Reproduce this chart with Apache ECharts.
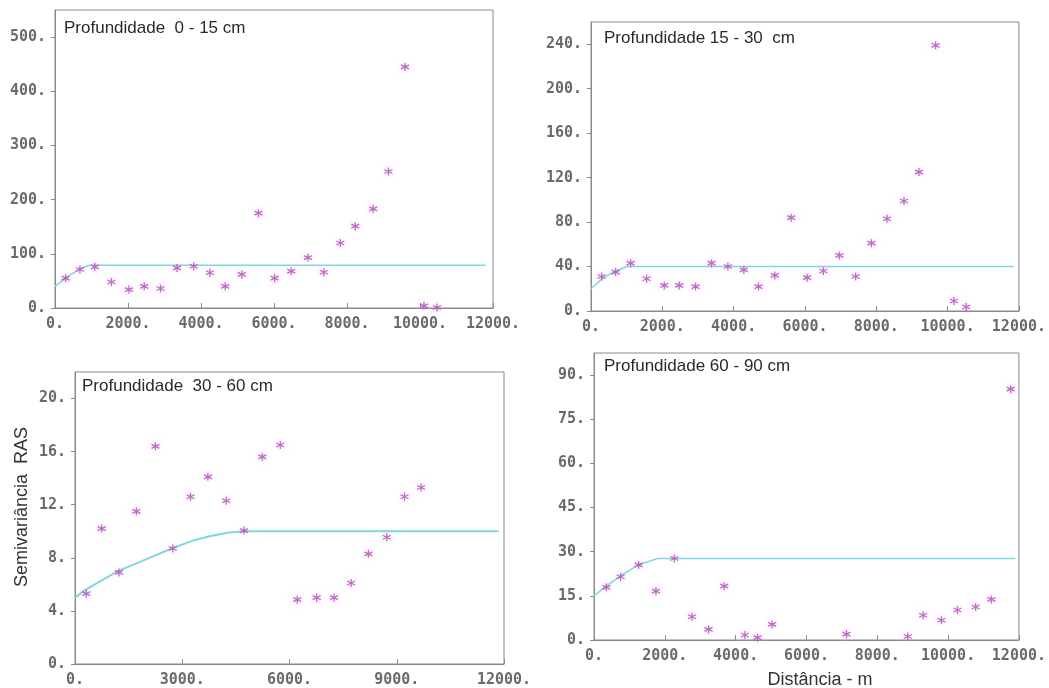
<!DOCTYPE html>
<html>
<head>
<meta charset="utf-8">
<script src="https://cdn.jsdelivr.net/npm/echarts@6/dist/echarts.min.js"></script>
<style>
  * { margin: 0; padding: 0; }
  body { background: #fff; }
  #chart { width: 1049px; height: 688px; }
</style>
</head>
<body>
<div id="chart"></div>
<script>
// semivariograma experimental (pontos) e modelo ajustado (linha), 4 profundidades
const depthTitles = [
  "Profundidade  0 - 15 cm",
  "Profundidade 15 - 30  cm",
  "Profundidade  30 - 60 cm",
  "Profundidade 60 - 90 cm",
];

// 0 - 15 cm
const pts015 = [
  [291, 55], [682, 71], [1091, 76], [1545, 48], [2027, 34], [2445, 40],
  [2891, 36], [3345, 74], [3800, 77], [4245, 65], [4664, 40], [5118, 62],
  [5573, 175], [6018, 55], [6473, 68], [6927, 93], [7364, 66], [7818, 120],
  [8227, 151], [8718, 183], [9136, 252], [9591, 445], [10109, 4], [10464, 1],
];
const model015 = [[0, 40], [350, 58], [700, 73], [950, 79], [11800, 79]];

// 15 - 30 cm
const pts1530 = [
  [299, 31], [691, 35], [1111, 43], [1559, 29], [2054, 23], [2474, 23],
  [2932, 22], [3380, 43], [3838, 40], [4286, 37], [4697, 22], [5154, 32],
  [5612, 84], [6060, 30], [6517, 36], [6965, 50], [7423, 31], [7862, 61],
  [8301, 83], [8777, 99], [9197, 125], [9664, 239], [10178, 9], [10523, 3.6],
];
const model1530 = [[0, 20], [350, 30], [700, 36], [1000, 40], [11850, 40]];

// 30 - 60 cm
const pts3060 = [
  [317, 5.3], [747, 10.2], [1232, 6.9], [1718, 11.5], [2250, 16.4], [2736, 8.7],
  [3231, 12.6], [3717, 14.1], [4230, 12.3], [4725, 10.05], [5238, 15.6], [5742, 16.5],
  [6218, 4.85], [6760, 5.0], [7246, 5.0], [7722, 6.1], [8207, 8.3], [8721, 9.55],
  [9216, 12.6], [9683, 13.3],
];
const model3060 = [
  [0, 5], [300, 5.6], [1200, 7.0], [2000, 7.9], [2700, 8.7], [3300, 9.3],
  [3800, 9.65], [4300, 9.9], [4800, 10], [11850, 10],
];

// 60 - 90 cm
const pts6090 = [
  [348, 17.9], [752, 21.5], [1260, 25.5], [1750, 16.6], [2267, 27.7], [2765, 7.9],
  [3236, 3.6], [3678, 18.3], [4261, 1.7], [4619, 0.8], [5032, 5.3], [7131, 2.0],
  [8861, 1.2], [9294, 8.4], [9812, 6.7], [10263, 10.2], [10780, 11.2], [11222, 13.8],
  [11768, 85.2],
];
const model6090 = [[0, 15], [350, 18.3], [750, 21.8], [1250, 25.5], [1800, 27.7], [11900, 27.7]];

// marcas dos eixos
const xTicksA = [0, 2000, 4000, 6000, 8000, 10000, 12000];
const xTicksB = [0, 3000, 6000, 9000, 12000];
const yTicks015 = [0, 100, 200, 300, 400, 500];
const yTicks1530 = [0, 40, 80, 120, 160, 200, 240];
const yTicks3060 = [0, 4, 8, 12, 16, 20];
const yTicks6090 = [0, 15, 30, 45, 60, 75, 90];
const yMax = [550, 260, 22, 97.5];

const panels = [
  { grid: { left: 55, top: 10, width: 438, height: 298 }, xt: xTicksA, yt: yTicks015, pts: pts015, model: model015, title: [64, 30] },
  { grid: { left: 591, top: 22, width: 429, height: 289 }, xt: xTicksA, yt: yTicks1530, pts: pts1530, model: model1530, title: [604, 40] },
  { grid: { left: 75, top: 372, width: 429, height: 292 }, xt: xTicksB, yt: yTicks3060, pts: pts3060, model: model3060, title: [82, 388] },
  { grid: { left: 594, top: 353, width: 426, height: 287 }, xt: xTicksA, yt: yTicks6090, pts: pts6090, model: model6090, title: [604, 368] },
];

const axisGray = "#8a8a8a";
const labelStyle = {
  fontFamily: "DejaVu Sans Mono",
  fontWeight: "bold",
  fontSize: 15,
  color: "#6a6a6a",
};
const asterisk = "path://M5,0L5,10M0.7,2.5L9.3,7.5M0.7,7.5L9.3,2.5";

const myChart = echarts.init(document.getElementById("chart"), null, { renderer: "canvas" });

const option = {
  backgroundColor: "#fff",
  animation: false,
  grid: panels.map((p) => ({
    ...p.grid,
    show: true,
    borderColor: axisGray,
    borderWidth: 1,
    containLabel: false,
  })),
  xAxis: panels.map((p, i) => ({
    gridIndex: i,
    type: "value",
    min: 0,
    max: 12000,
    splitLine: { show: false },
    axisLine: { show: true, lineStyle: { color: axisGray } },
    axisTick: { show: true, inside: true, length: 5, customValues: p.xt, lineStyle: { color: axisGray } },
    axisLabel: {
      ...labelStyle,
      margin: 9,
      customValues: p.xt,
      formatter: (v) => v + ".",
    },
  })),
  yAxis: panels.map((p, i) => ({
    gridIndex: i,
    type: "value",
    min: 0,
    max: yMax[i],
    splitLine: { show: false },
    axisLine: { show: true, lineStyle: { color: axisGray } },
    axisTick: { show: true, inside: false, length: 4, customValues: p.yt, lineStyle: { color: axisGray } },
    axisLabel: {
      ...labelStyle,
      margin: 9,
      customValues: p.yt,
      formatter: (v) => v + ".",
    },
  })),
  graphic: [
    ...panels.map((p, i) => ({
      type: "text",
      left: p.title[0],
      top: p.title[1] - 10,
      style: {
        text: depthTitles[i],
        font: "17px 'Liberation Sans', Arial, sans-serif",
        fill: "#2a2a2a",
      },
    })),
    {
      type: "text",
      x: 22,
      y: 507,
      rotation: Math.PI / 2,
      style: {
        text: "Semivariância  RAS",
        font: "18px 'Liberation Sans', Arial, sans-serif",
        fill: "#333",
        align: "center",
        verticalAlign: "middle",
      },
    },
    {
      type: "text",
      x: 820,
      y: 680,
      style: {
        text: "Distância - m",
        font: "18px 'Liberation Sans', Arial, sans-serif",
        fill: "#333",
        align: "center",
        verticalAlign: "middle",
      },
    },
  ],
  series: [
    ...panels.map((p, i) => ({
      type: "line",
      xAxisIndex: i,
      yAxisIndex: i,
      data: p.model,
      showSymbol: false,
      smooth: false,
      lineStyle: { color: "#7ed9dd", width: i === 2 ? 2 : 1.5 },
      z: 2,
    })),
    ...panels.map((p, i) => ({
      type: "scatter",
      xAxisIndex: i,
      yAxisIndex: i,
      data: p.pts,
      symbol: asterisk,
      symbolSize: 8,
      itemStyle: {
        color: "#b048b8",
        borderColor: "#b048b8",
        borderWidth: 1.3,
        shadowBlur: 6,
        shadowColor: "rgba(230,170,235,0.7)",
      },
      z: 3,
    })),
  ],
};

myChart.setOption(option);
</script>
</body>
</html>
